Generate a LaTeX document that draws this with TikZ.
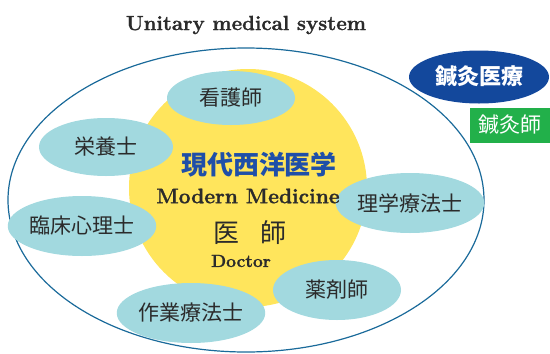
\documentclass[tikz,border=0pt]{standalone}
\usepackage{fontspec}
\setmainfont{Latin Modern Roman}[BoldFeatures = {FakeBold = 1.2}]
\newfontfamily\cjk{Noto Sans CJK JP}
\usetikzlibrary{shapes.geometric}

\definecolor{teal1}{HTML}{A2D9DF}
\definecolor{sun}{HTML}{FFE55C}
\definecolor{ringblue}{HTML}{1A6A9A}
\definecolor{navy1}{HTML}{13489C}
\definecolor{leaf}{HTML}{22B04A}
\definecolor{ink}{HTML}{2B2B2B}
\definecolor{titleblue}{HTML}{1F4FA8}

\tikzset{
	job/.style = {ellipse, fill = teal1, inner sep = 0pt, text = ink,
		font = \cjk\fontsize{21}{21}\selectfont},
	lbl/.style = {inner sep = 0pt}
}

\begin{document}
\begin{tikzpicture}[x = 1pt, y = -1pt]
		\useasboundingbox (0,0) rectangle (550,354);
		
		\node[lbl, font = \bfseries\fontsize{20.5}{20.5}\selectfont, text = ink] (title) at (246,25) {Unitary medical system};
		
		\draw[ringblue, line width = 1.2pt] (246,200) ellipse (238 and 152);
		\fill[sun] (248,188) circle (119);
		
		\node[job, minimum width = 128, minimum height = 54] (nurse) at (231,98) {看護師};
		\node[job, minimum width = 134, minimum height = 58] (diet) at (106,147) {栄養士};
		\node[job, minimum width = 134, minimum height = 60] (psych) at (82,226) {臨床心理士};
		\node[job, minimum width = 134, minimum height = 60] (physio) at (410,203) {理学療法士};
		\node[job, minimum width = 128, minimum height = 60] (pharm) at (337,290) {薬剤師};
		\node[job, minimum width = 126, minimum height = 60] (occup) at (191,313) {作業療法士};
		
		\node[lbl, text = titleblue, font = \cjk\bfseries\fontsize{26}{26}\selectfont] (gendai) at (259,165) {現代西洋医学};
		\node[lbl, text = ink, font = \bfseries\fontsize{21}{21}\selectfont] (modern) at (248,196) {Modern Medicine};
		\node[lbl, text = ink, font = \cjk\fontsize{26}{26}\selectfont] (ishi) at (250,233) {医\hspace{0.8em}師};
		\node[lbl, text = ink, font = \bfseries\fontsize{17.5}{17.5}\selectfont] (doctor) at (241,261) {Doctor};
		
		\node[ellipse, fill = navy1, minimum width = 140, minimum height = 53, inner sep = 0pt,
			text = white, font = \cjk\bfseries\fontsize{22}{22}\selectfont] (shinkyu) at (479,77) {鍼灸医療};
		\node[rectangle, fill = leaf, minimum width = 80, minimum height = 35, inner sep = 0pt,
			text = white, font = \cjk\fontsize{21}{21}\selectfont] (shinkyushi) at (510,125) {鍼灸師};
\end{tikzpicture}
\end{document}
